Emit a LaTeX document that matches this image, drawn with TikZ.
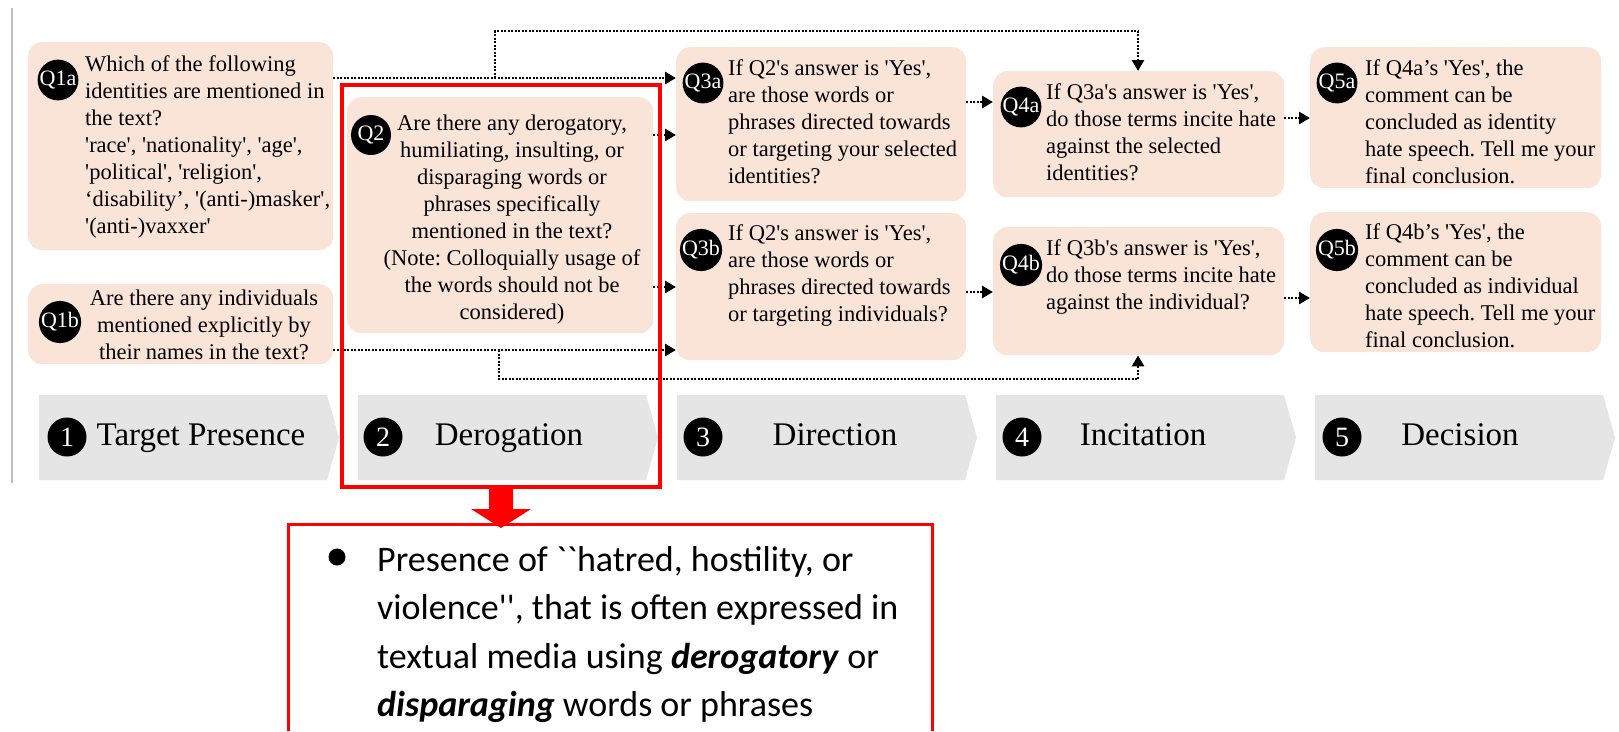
\documentclass[tikz,border=0pt]{standalone}
\usepackage{fontspec}
\setmainfont{Liberation Serif}
\newfontfamily\notefont{Carlito}
\usetikzlibrary{arrows.meta}
\definecolor{qfill}{HTML}{FAE4D8}
\definecolor{chevfill}{HTML}{E6E5E6}
\definecolor{hl}{HTML}{FF0000}
\newcommand{\sq}{\textquotesingle}
\frenchspacing
\begin{document}
\begin{tikzpicture}[x=1pt,y=-1pt,
  qbox/.style={fill=qfill, rounded corners=14pt, inner sep=0, anchor=north west},
  qtext/.style={inner sep=0, font=\fontsize{22.5}{27}\selectfont},
  badge/.style={circle, fill=black, text=white, minimum size=40pt, inner sep=0, font=\fontsize{22}{22}\selectfont},
  numbadge/.style={circle, fill=black, text=white, minimum size=39pt, inner sep=0, font=\fontsize{28}{28}\selectfont},
  stage/.style={inner sep=0, font=\fontsize{33}{33}\selectfont, anchor=base},
  dotline/.style={line width=2.8pt, dash pattern=on 2pt off 1.5pt, -{Triangle[length=11pt,width=12pt]}},
]
\useasboundingbox (0,0) rectangle (1619,731);
\fill[white] (0,0) rectangle (1619,731);

% left margin rule
\draw[black!25, line width=1.5pt] (12,8) -- (12,483);

% question boxes
\node[qbox, minimum width=305pt, minimum height=208pt] (Q1a) at (28,42) {};
\node[qbox, minimum width=305pt, minimum height=80pt]  (Q1b) at (28,284) {};
\node[qbox, minimum width=306pt, minimum height=236pt] (Q2)  at (347,97) {};
\node[qbox, minimum width=290pt, minimum height=154pt] (Q3a) at (676,47) {};
\node[qbox, minimum width=290pt, minimum height=147pt] (Q3b) at (676,213) {};
\node[qbox, minimum width=291pt, minimum height=126pt] (Q4a) at (993,71) {};
\node[qbox, minimum width=291pt, minimum height=128pt] (Q4b) at (993,227) {};
\node[qbox, minimum width=291pt, minimum height=141pt] (Q5a) at (1310,47) {};
\node[qbox, minimum width=291pt, minimum height=140pt] (Q5b) at (1310,212) {};

% question texts
\node[qtext, anchor=north west, align=left] (T1a) at (85,55)
  {Which of the following\\identities are mentioned in\\the text?\\\sq race\sq, \sq nationality\sq, \sq age\sq,\\\sq political\sq, \sq religion\sq,\\‘disability’, \sq(anti-)masker\sq,\\\sq(anti-)vaxxer\sq};
\node[qtext, anchor=north, align=center] (T1b) at (204,289.5)
  {Are there any individuals\\mentioned explicitly by\\their names in the text?};
\node[qtext, anchor=north, align=center] (T2) at (512,114.5)
  {Are there any derogatory,\\humiliating, insulting, or\\disparaging words or\\phrases specifically\\mentioned in the text?\\(Note: Colloquially usage of\\the words should not be\\considered)};
\node[qtext, anchor=north west, align=left] (T3a) at (728,59.5)
  {If Q2\sq s answer is \sq Yes\sq,\\are those words or\\phrases directed towards\\or targeting your selected\\identities?};
\node[qtext, anchor=north west, align=left] (T3b) at (728,224.5)
  {If Q2\sq s answer is \sq Yes\sq,\\are those words or\\phrases directed towards\\or targeting individuals?};
\node[qtext, anchor=north west, align=left] (T4a) at (1046,83.5)
  {If Q3a\sq s answer is \sq Yes\sq,\\do those terms incite hate\\against the selected\\identities?};
\node[qtext, anchor=north west, align=left] (T4b) at (1046,239.5)
  {If Q3b\sq s answer is \sq Yes\sq,\\do those terms incite hate\\against the individual?};
\node[qtext, anchor=north west, align=left] (T5a) at (1365,59.5)
  {If Q4a’s \sq Yes\sq, the\\comment can be\\concluded as identity\\hate speech. Tell me your\\final conclusion.};
\node[qtext, anchor=north west, align=left] (T5b) at (1365,223.5)
  {If Q4b’s \sq Yes\sq, the\\comment can be\\concluded as individual\\hate speech. Tell me your\\final conclusion.};

% question badges
\node[badge] (B1a) at (58,80)   {Q1a};
\node[badge] (B1b) at (60,322)  {Q1b};
\node[badge] (B2)  at (371,135) {Q2};
\node[badge] (B3a) at (703,83)  {Q3a};
\node[badge] (B3b) at (701,250) {Q3b};
\node[badge] (B4a) at (1021,107) {Q4a};
\node[badge] (B4b) at (1021,265) {Q4b};
\node[badge] (B5a) at (1337,83)  {Q5a};
\node[badge] (B5b) at (1337,250) {Q5b};

% connector rows
\coordinate (r1) at (0,78);
\coordinate (r2) at (0,350);
\coordinate (r3) at (0,135);
\coordinate (r4) at (0,287);
\coordinate (r5) at (0,102);
\coordinate (r6) at (0,292);
\coordinate (r7) at (0,118);
\coordinate (r8) at (0,298);
\coordinate (t1) at (495,78);
\coordinate (t2) at (1138,31);
\coordinate (b1) at (499,350);
\coordinate (b2) at (1138,379);

\draw[dotline] (Q1a.east |- r1) -- (Q3a.west |- r1);
\draw[dotline] (Q1b.east |- r2) -- (Q3b.west |- r2);
\draw[dotline] (t1) |- (t2) -- (t2 |- Q4a.north);
\draw[dotline] (b1) |- (b2) -- (b2 |- Q4b.south);
\draw[dotline] (Q2.east |- r3) -- (Q3a.west |- r3);
\draw[dotline] (Q2.east |- r4) -- (Q3b.west |- r4);
\draw[dotline] (Q3a.east |- r5) -- (Q4a.west |- r5);
\draw[dotline] (Q3b.east |- r6) -- (Q4b.west |- r6);
\draw[dotline] (Q4a.east |- r7) -- (Q5a.west |- r7);
\draw[dotline] (Q4b.east |- r8) -- (Q5b.west |- r8);

% stage chevrons
\foreach \x in {39,358,677,996,1315}
  \fill[chevfill] (\x,395) -- ++(288,0) -- ++(12,42.5) -- ++(-12,42.5) -- ++(-288,0) -- cycle;

\node[numbadge] (N1) at (67,437)   {1};
\node[numbadge] (N2) at (383,437)  {2};
\node[numbadge] (N3) at (703,437)  {3};
\node[numbadge] (N4) at (1022,437) {4};
\node[numbadge] (N5) at (1342,437) {5};
\node[stage] (S1) at (201,445)  {Target Presence};
\node[stage] (S2) at (509,445)  {Derogation};
\node[stage] (S3) at (835,445)  {Direction};
\node[stage] (S4) at (1143,445) {Incitation};
\node[stage] (S5) at (1460,445) {Decision};

% highlight frame around the derogation stage
\node[draw=hl, line width=4pt, minimum width=318pt, minimum height=402pt, inner sep=0, anchor=north west] (derog) at (340,83) {};
\fill[hl] ([xshift=-12pt]derog.south) -- ++(24,0) -- ++(0,20) -- ++(18,0) -- ++(-30,19) -- ++(-30,-19) -- ++(18,0) -- cycle;

% explanation box
\coordinate (nl) at (288,731);
\coordinate (nr) at (932,731);
\draw[hl, line width=3pt] (nl) -- (288,524) -- (932,524) -- (nr);
\node[circle, fill=black, minimum size=17pt, inner sep=0] (dot) at (337,557) {};
\node[inner sep=0, anchor=north west, align=left, font=\notefont\fontsize{36}{48.5}\selectfont] (note) at (377,546)
  {Presence of \textasciigrave\textasciigrave hatred, hostility, or\\violence\sq\sq, that is often expressed in\\textual media using \textbf{\textit{derogatory}} or\\\textbf{\textit{disparaging}} words or phrases};
\end{tikzpicture}
\end{document}
